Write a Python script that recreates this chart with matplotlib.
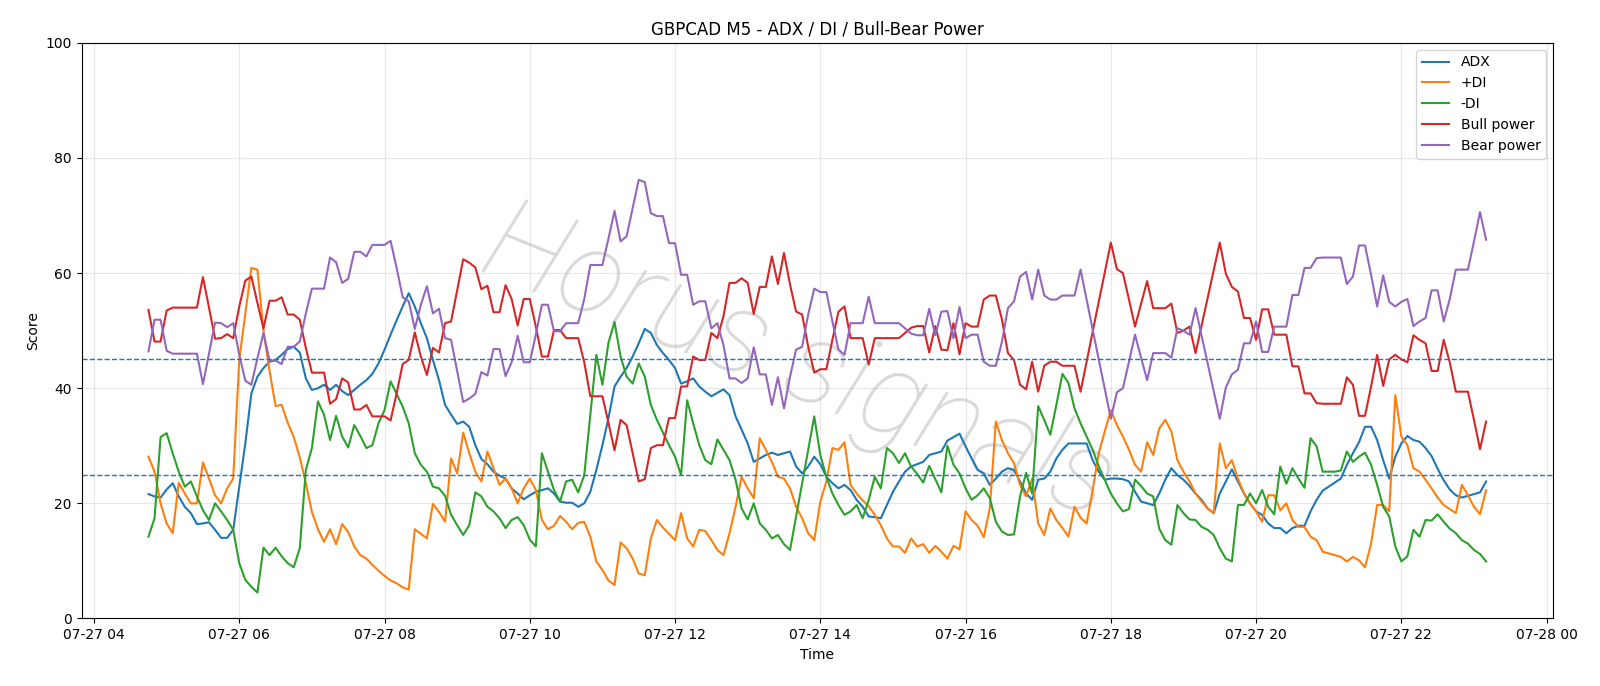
import matplotlib
matplotlib.use('Agg')
import matplotlib.pyplot as plt
import matplotlib.dates as mdates
import pandas as pd

start_time = '2025-07-27 04:45'
n_points = 222
times = pd.date_range(start_time, periods=n_points, freq='5min')

adx = [21.6, 21.2, 21.0, 22.4, 23.5, 21.2, 19.4, 18.3, 16.4, 16.5, 16.7, 15.4, 14.0, 14.0, 15.4, 22.9, 30.4, 39.1, 42.0, 43.5,
       44.6, 44.9, 45.8, 46.8, 47.2, 46.2, 41.7, 39.7, 40.0, 40.6, 39.7, 40.6, 39.5, 38.8, 39.7, 40.6, 41.4, 42.5, 44.3, 46.7,
       49.3, 51.8, 54.2, 56.5, 54.2, 51.3, 48.7, 44.9, 41.4, 37.1, 35.4, 33.8, 34.2, 33.3, 30.1, 27.7, 26.8, 25.5, 24.8, 24.3,
       22.6, 21.7, 20.7, 21.4, 22.0, 22.3, 22.6, 21.7, 20.3, 20.1, 20.1, 19.4, 20.0, 22.0, 25.8, 30.1, 34.8, 40.3, 42.0, 43.5,
       45.5, 47.8, 50.3, 49.6, 47.5, 46.1, 44.9, 43.5, 40.8, 41.2, 41.7, 40.3, 39.4, 38.6, 39.2, 39.8, 38.8, 35.1, 32.8, 30.4,
       27.2, 27.8, 28.4, 28.8, 28.4, 28.7, 29.0, 26.4, 25.2, 26.4, 28.1, 26.8, 24.6, 23.5, 22.6, 23.2, 22.3, 20.6, 19.4, 17.7,
       17.6, 17.4, 19.7, 22.0, 23.8, 25.5, 26.4, 26.8, 27.2, 28.4, 28.7, 29.0, 30.9, 31.5, 32.1, 29.9, 27.8, 25.8, 25.2, 23.2,
       24.3, 25.5, 26.1, 25.8, 23.8, 21.7, 20.6, 24.1, 24.3, 25.5, 27.8, 29.3, 30.4, 30.4, 30.4, 30.4, 27.5, 25.5, 24.1, 24.3,
       24.3, 24.2, 23.8, 22.0, 20.3, 20.0, 19.7, 21.7, 24.1, 26.1, 24.9, 24.1, 23.0, 21.7, 20.6, 19.1, 18.3, 21.7, 23.8, 25.9,
       23.8, 21.7, 20.0, 18.6, 18.0, 16.5, 15.7, 15.7, 14.8, 15.7, 16.1, 16.1, 18.6, 20.6, 22.2, 22.9, 23.6, 24.3, 26.7, 28.7,
       30.6, 33.3, 33.3, 31.0, 27.5, 24.3, 28.1, 30.4, 31.7, 31.0, 30.7, 29.6, 28.2, 26.0, 24.0, 22.4, 21.4, 21.0, 21.3, 21.6,
       21.9, 23.8]

plus_di = [28.1, 25.5, 20.0, 16.5, 14.8, 23.6, 21.7, 20.0, 20.0, 27.1, 24.3, 21.4, 20.0, 22.6, 24.3, 45.0, 53.0, 60.9, 60.6, 50.0,
           43.0, 36.9, 37.1, 34.0, 31.5, 28.0, 23.5, 18.5, 15.5, 13.3, 15.5, 12.9, 16.4, 15.0, 12.5, 11.0, 10.4, 9.3, 8.3, 7.4,
           6.6, 6.1, 5.4, 5.0, 15.5, 14.7, 13.9, 19.9, 18.5, 16.8, 27.8, 25.2, 32.3, 28.7, 25.5, 23.8, 29.0, 26.1, 23.2, 24.3,
           22.6, 20.0, 22.6, 24.3, 22.3, 17.1, 15.5, 16.1, 17.8, 16.8, 15.5, 16.6, 16.8, 14.2, 9.9, 8.4, 6.6, 5.8, 13.2, 12.2,
           10.4, 7.8, 7.5, 13.9, 17.1, 15.8, 14.7, 13.6, 18.3, 13.9, 12.5, 15.4, 15.2, 13.6, 11.9, 11.0, 14.8, 19.4, 24.6, 22.6,
           20.9, 31.3, 29.3, 27.2, 24.6, 24.3, 22.6, 19.4, 17.4, 14.8, 13.6, 20.3, 23.8, 29.6, 29.3, 30.6, 23.2, 21.7, 20.5, 19.5,
           18.0, 16.2, 13.9, 12.5, 12.5, 11.4, 13.9, 12.5, 12.9, 11.4, 12.6, 11.6, 10.4, 12.6, 12.0, 18.6, 17.1, 16.1, 14.1, 19.1,
           34.2, 31.0, 28.7, 27.0, 23.2, 21.2, 24.3, 16.5, 14.5, 19.1, 17.1, 15.7, 14.2, 19.4, 17.5, 16.5, 22.3, 28.7, 32.5, 36.2,
           33.6, 31.6, 29.3, 26.7, 25.5, 30.6, 28.4, 33.0, 34.5, 32.5, 27.5, 25.5, 23.8, 21.7, 20.3, 19.1, 18.3, 30.4, 26.1, 27.5,
           24.3, 21.7, 20.0, 18.6, 16.8, 21.4, 21.4, 18.8, 20.0, 17.1, 15.9, 15.9, 14.2, 13.6, 11.6, 11.3, 11.0, 10.7, 9.9, 10.7,
           10.1, 8.9, 13.0, 19.7, 19.7, 18.6, 38.8, 31.6, 30.1, 26.1, 25.5, 24.1, 22.6, 21.0, 19.7, 19.0, 18.3, 23.2, 21.4, 19.4,
           18.1, 22.3]

minus_di = [14.2, 17.4, 31.5, 32.2, 28.7, 25.5, 22.9, 23.8, 21.2, 18.8, 17.1, 20.0, 18.6, 17.1, 15.4, 9.6, 6.7, 5.5, 4.5, 12.3,
            11.0, 12.3, 10.8, 9.6, 8.9, 12.2, 25.8, 29.6, 37.7, 35.4, 31.0, 35.2, 31.6, 29.7, 33.6, 31.7, 29.6, 30.1, 33.9, 36.2,
            41.2, 39.0, 36.8, 33.9, 28.7, 26.7, 25.5, 22.9, 22.6, 21.3, 18.0, 16.2, 14.5, 16.2, 21.9, 21.2, 19.4, 18.6, 17.4, 15.7,
            17.1, 17.6, 16.2, 13.7, 12.5, 28.7, 25.5, 22.3, 20.3, 23.8, 24.1, 21.9, 24.9, 35.4, 45.8, 40.6, 47.9, 51.5, 45.5, 42.0,
            40.8, 44.3, 42.0, 37.1, 34.5, 32.3, 30.1, 28.1, 24.9, 37.9, 33.9, 30.1, 27.5, 26.8, 31.1, 29.3, 27.5, 24.1, 19.1, 17.2,
            20.0, 16.5, 15.4, 13.9, 14.5, 12.9, 11.9, 17.7, 23.5, 29.3, 35.1, 28.4, 24.6, 21.7, 19.7, 18.0, 18.6, 19.7, 17.4, 20.6,
            24.6, 22.6, 29.6, 28.7, 27.0, 28.7, 26.4, 25.1, 23.6, 26.5, 24.2, 21.9, 30.0, 26.7, 25.2, 22.6, 20.6, 21.4, 22.6, 20.9,
            16.8, 15.1, 14.5, 14.6, 21.2, 25.3, 21.7, 36.9, 34.5, 31.9, 37.1, 42.5, 40.9, 36.5, 33.9, 31.6, 29.3, 26.4, 24.1, 21.7,
            20.0, 18.6, 19.0, 24.1, 23.0, 21.7, 21.2, 15.6, 13.6, 12.8, 19.7, 18.3, 17.2, 17.1, 15.9, 15.4, 14.5, 12.2, 10.4, 9.9,
            19.7, 19.7, 21.7, 20.0, 22.3, 19.4, 18.1, 26.4, 23.4, 26.1, 24.3, 22.7, 31.3, 29.9, 25.5, 25.5, 25.5, 25.7, 29.0, 27.2,
            28.1, 28.8, 26.7, 23.2, 19.4, 17.7, 12.5, 9.9, 10.8, 15.4, 14.2, 17.1, 17.0, 18.1, 16.8, 15.6, 14.8, 13.6, 13.0, 11.9,
            11.2, 9.9]

bull_power = [53.6, 48.1, 48.1, 53.5, 54.0, 54.0, 54.0, 54.0, 54.0, 59.3, 54.0, 48.6, 48.7, 49.4, 48.7, 54.2, 58.7, 59.4, 54.8, 50.4,
              55.2, 55.2, 55.8, 52.8, 52.8, 51.9, 47.0, 42.7, 42.7, 42.7, 37.3, 38.1, 41.7, 41.0, 36.3, 36.3, 37.1, 35.1, 35.1, 35.1,
              34.4, 39.1, 44.2, 44.9, 49.7, 45.5, 42.3, 47.0, 46.2, 51.3, 51.6, 57.0, 62.4, 61.8, 61.0, 57.2, 57.8, 53.2, 53.2, 57.9,
              55.5, 50.9, 55.5, 55.5, 50.7, 45.5, 45.5, 50.1, 50.1, 48.7, 48.7, 48.7, 44.5, 38.6, 38.6, 38.6, 34.0, 29.2, 34.5, 33.6,
              28.7, 23.8, 24.2, 29.6, 30.1, 30.1, 34.8, 34.8, 40.3, 40.3, 45.5, 44.9, 44.9, 49.6, 48.7, 52.5, 58.3, 58.3, 59.1, 58.3,
              52.9, 57.6, 57.6, 62.9, 58.1, 63.5, 58.0, 53.3, 52.8, 47.2, 42.7, 43.3, 43.3, 48.4, 53.3, 54.2, 48.7, 48.7, 48.7, 44.1,
              48.7, 48.7, 48.7, 48.7, 48.7, 49.6, 50.5, 50.8, 50.8, 46.2, 50.8, 46.7, 46.6, 51.3, 45.9, 51.3, 50.7, 50.7, 55.4, 56.1,
              56.1, 52.0, 46.1, 44.9, 40.6, 39.8, 44.6, 39.4, 43.9, 44.6, 44.6, 43.9, 43.9, 43.9, 39.4, 44.6, 49.8, 55.0, 60.1, 65.3,
              60.7, 60.0, 55.4, 50.7, 54.7, 58.6, 53.9, 53.9, 53.9, 54.7, 49.6, 50.0, 50.7, 46.1, 50.9, 55.7, 60.5, 65.3, 59.9, 57.6,
              56.8, 52.2, 52.2, 48.4, 53.7, 53.7, 49.3, 49.3, 49.3, 43.8, 43.8, 39.1, 39.1, 37.4, 37.3, 37.3, 37.3, 37.3, 41.9, 40.6,
              35.2, 35.2, 40.3, 45.8, 40.4, 45.0, 45.8, 45.0, 44.5, 49.2, 48.4, 47.8, 43.0, 43.0, 48.4, 44.5, 39.4, 39.4, 39.4, 34.5,
              29.4, 34.2]

bear_power = [46.4, 51.9, 51.9, 46.5, 46.0, 46.0, 46.0, 46.0, 46.0, 40.7, 46.0, 51.4, 51.3, 50.6, 51.3, 45.8, 41.3, 40.6, 45.2, 49.6,
              44.8, 44.8, 44.2, 47.2, 47.2, 48.1, 53.0, 57.3, 57.3, 57.3, 62.7, 61.9, 58.3, 59.0, 63.7, 63.7, 62.9, 64.9, 64.9, 64.9,
              65.6, 60.9, 55.8, 55.1, 50.3, 54.5, 57.7, 53.0, 53.8, 48.7, 48.4, 43.0, 37.6, 38.2, 39.0, 42.8, 42.2, 46.8, 46.8, 42.1,
              44.5, 49.1, 44.5, 44.5, 49.3, 54.5, 54.5, 49.9, 49.9, 51.3, 51.3, 51.3, 55.5, 61.4, 61.4, 61.4, 66.0, 70.8, 65.5, 66.4,
              71.3, 76.2, 75.8, 70.4, 69.9, 69.9, 65.2, 65.2, 59.7, 59.7, 54.5, 55.1, 55.1, 50.4, 51.3, 47.5, 41.7, 41.7, 40.9, 41.7,
              47.1, 42.4, 42.4, 37.1, 41.9, 36.5, 42.0, 46.7, 47.2, 52.8, 57.3, 56.7, 56.7, 51.6, 46.7, 45.8, 51.3, 51.3, 51.3, 55.9,
              51.3, 51.3, 51.3, 51.3, 51.3, 50.4, 49.5, 49.2, 49.2, 53.8, 49.2, 53.3, 53.4, 48.7, 54.1, 48.7, 49.3, 49.3, 44.6, 43.9,
              43.9, 48.0, 53.9, 55.1, 59.4, 60.2, 55.4, 60.6, 56.1, 55.4, 55.4, 56.1, 56.1, 56.1, 60.6, 55.4, 50.2, 45.0, 39.9, 34.7,
              39.3, 40.0, 44.6, 49.3, 45.3, 41.4, 46.1, 46.1, 46.1, 45.3, 50.4, 50.0, 49.3, 53.9, 49.1, 44.3, 39.5, 34.7, 40.1, 42.4,
              43.2, 47.8, 47.8, 51.6, 46.3, 46.3, 50.7, 50.7, 50.7, 56.2, 56.2, 60.9, 60.9, 62.6, 62.7, 62.7, 62.7, 62.7, 58.1, 59.4,
              64.8, 64.8, 59.7, 54.2, 59.6, 55.0, 54.2, 55.0, 55.5, 50.8, 51.6, 52.2, 57.0, 57.0, 51.6, 55.5, 60.6, 60.6, 60.6, 65.5,
              70.6, 65.8]

threshold_levels = [25, 45]

fig, ax = plt.subplots(figsize=(16, 6.86), dpi=100)
fig.subplots_adjust(left=0.051, right=0.9706, top=0.9375, bottom=0.0985)

ax.text(0.487, 0.44, 'Horus signals', transform=ax.transAxes, fontsize=84,
        color='gray', alpha=0.3, rotation=-22, ha='center', va='center',
        family='Roboto', fontweight='light', style='italic', zorder=0)

ax.plot(times, adx, label='ADX', color='tab:blue', lw=1.5)
ax.plot(times, plus_di, label='+DI', color='tab:orange', lw=1.5)
ax.plot(times, minus_di, label='-DI', color='tab:green', lw=1.5)
ax.plot(times, bull_power, label='Bull power', color='tab:red', lw=1.5)
ax.plot(times, bear_power, label='Bear power', color='tab:purple', lw=1.5)

for lvl in threshold_levels:
    ax.axhline(lvl, color='tab:blue', ls='--', lw=1)

ax.set_ylim(0, 100)
ax.set_title('GBPCAD M5 - ADX / DI / Bull-Bear Power')
ax.set_xlabel('Time')
ax.set_ylabel('Score')
ax.grid(True, alpha=0.3)
ax.xaxis.set_major_locator(mdates.HourLocator(byhour=range(0, 24, 2)))
ax.xaxis.set_major_formatter(mdates.DateFormatter('%m-%d %H'))
ax.legend(loc='upper right')

fig.savefig('out.png', dpi=100)
